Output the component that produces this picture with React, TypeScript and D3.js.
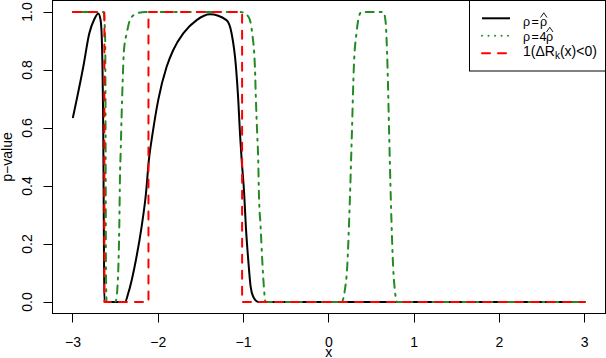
import React from "react";
import * as d3 from "d3";

// ---- data ----
const blackX = [-3.0, -2.957, -2.879, -2.809, -2.75, -2.703, -2.678, -2.664, -2.645, -2.637, -2.632, -2.39, -2.352, -2.262, -2.195, -2.144, -2.11, -2.066, -2.0, -1.902, -1.824, -1.707, -1.55, -1.394, -1.2, -1.14, -1.089, -1.062, -1.042, -1.022, -0.993, -0.973, -0.945, -0.917, -0.886, -0.828, 3.0];
const blackY = [0.637, 0.697, 0.811, 0.926, 0.975, 0.995, 0.975, 0.926, 0.58, 0.2, 0.0, 0.0, 0.03, 0.145, 0.26, 0.375, 0.49, 0.582, 0.697, 0.811, 0.869, 0.926, 0.972, 0.992, 0.972, 0.926, 0.811, 0.697, 0.582, 0.49, 0.375, 0.26, 0.145, 0.053, 0.018, 0.0, 0.0];

const greenX = [-3.0, -2.64, -2.622, -2.617, -2.613, -2.605, -2.51, -2.496, -2.469, -2.457, -2.449, -2.44, -2.43, -2.418, -2.402, -2.37, -2.332, -2.254, -2.15, -1.05, -1.0, -0.96, -0.925, -0.898, -0.867, -0.855, -0.84, -0.828, -0.82, -0.8, -0.781, -0.762, -0.742, 0.14, 0.149, 0.187, 0.215, 0.246, 0.27, 0.293, 0.325, 0.343, 0.38, 0.64, 0.664, 0.688, 0.707, 0.727, 0.754, 0.774, 0.8, 0.81, 3.0];
const greenY = [1.0, 1.0, 0.9, 0.5, 0.1, 0.0, 0.0, 0.005, 0.11, 0.26, 0.43, 0.524, 0.639, 0.754, 0.869, 0.926, 0.972, 0.995, 1.0, 1.0, 0.998, 0.99, 0.972, 0.926, 0.811, 0.697, 0.58, 0.49, 0.375, 0.26, 0.145, 0.053, 0.0, 0.0, 0.0, 0.04, 0.12, 0.35, 0.58, 0.81, 0.93, 0.97, 1.0, 1.0, 0.97, 0.81, 0.58, 0.35, 0.12, 0.04, 0.0, 0.0, 0.0];

const redX = [-3.0, -2.632, -2.632, -2.115, -2.115, -1.017, -1.017, 3.0];
const redY = [1, 1, 0, 0, 1, 1, 0, 0];

const xTicks = [-3, -2, -1, 0, 1, 2, 3];
const xTickLabels = ["\u22123", "\u22122", "\u22121", "0", "1", "2", "3"];
const yTicks = [0, 0.2, 0.4, 0.6, 0.8, 1.0];
const yTickLabels = ["0.0", "0.2", "0.4", "0.6", "0.8", "1.0"];

const FONT = "'Liberation Sans', Arial, Helvetica, sans-serif";

export default function App() {
  const W = 606, H = 358;
  const x = d3.scaleLinear().domain([-3.24, 3.24]).range([52.5, 605.2]);
  const y = d3.scaleLinear().domain([-0.04, 1.04]).range([313.6, 0.4]);

  const smooth = d3.line<[number, number]>().x(d => x(d[0])).y(d => y(d[1])).curve(d3.curveMonotoneX);
  const step = d3.line<[number, number]>().x(d => x(d[0])).y(d => y(d[1]));

  const black = blackX.map((v, i) => [v, blackY[i]] as [number, number]);
  const green = greenX.map((v, i) => [v, greenY[i]] as [number, number]);
  const red = redX.map((v, i) => [v, redY[i]] as [number, number]);

  const snap = (v: number) => Math.round(v - 0.5) + 0.5;
  const left = 52.5, right = 605.5, top = 0.5, bottom = 313.5;

  const legLineX1 = 482, legLineX2 = 510;
  const rows = [18.3, 35.7, 53.3];

  return (
    <svg width={W} height={H} style={{ position: "absolute", left: 0, top: 0, background: "#fff" }} fontFamily={FONT}>
      <rect x={0} y={0} width={W} height={H} fill="#fff" />
      {/* curves */}
      <path d={smooth(black) || ""} fill="none" stroke="#000" strokeWidth={2} strokeLinejoin="round" strokeLinecap="round" />
      <path d={smooth(green) || ""} fill="none" stroke="#228B22" strokeWidth={2} strokeDasharray="2,6,8,6" strokeLinejoin="round" strokeLinecap="round" />
      <path d={step(red) || ""} fill="none" stroke="#FF0000" strokeWidth={2} strokeDasharray="8,8" strokeLinejoin="round" strokeLinecap="round" />

      {/* box */}
      <rect x={left} y={top} width={right - left} height={bottom - top} fill="none" stroke="#000" strokeWidth={1} />

      {/* x axis */}
      <line x1={snap(x(-3))} x2={snap(x(3))} y1={bottom} y2={bottom} stroke="#000" />
      {xTicks.map((t, i) => (
        <g key={"xt" + i}>
          <line x1={snap(x(t))} x2={snap(x(t))} y1={bottom} y2={bottom + 9} stroke="#000" />
          <text x={x(t)} y={346.5} fontSize={14} textAnchor="middle" fill="#000">{xTickLabels[i]}</text>
        </g>
      ))}
      {/* y axis */}
      {yTicks.map((t, i) => (
        <g key={"yt" + i}>
          <line x1={left} x2={left - 9} y1={snap(y(t))} y2={snap(y(t))} stroke="#000" />
          <text transform={`translate(32,${y(t)}) rotate(-90)`} fontSize={14} textAnchor="middle" fill="#000">{yTickLabels[i]}</text>
        </g>
      ))}
      <text transform={`translate(12,${(0.4 + 313.6) / 2}) rotate(-90)`} fontSize={14} textAnchor="middle" fill="#000">p{"\u2212"}value</text>
      <text x={x(0)} y={356.5} fontSize={14} textAnchor="middle" fill="#000">x</text>

      {/* legend */}
      <rect x={469.5} y={top} width={right - 469.5} height={71 - top} fill="#fff" stroke="#000" strokeWidth={1} />
      <line x1={legLineX1} x2={legLineX2} y1={rows[0]} y2={rows[0]} stroke="#000" strokeWidth={2} />
      <line x1={legLineX1} x2={legLineX2} y1={rows[1]} y2={rows[1]} stroke="#228B22" strokeWidth={2} strokeDasharray="0.01,6.5" strokeLinecap="round" />
      <line x1={legLineX1} x2={legLineX2} y1={rows[2]} y2={rows[2]} stroke="#FF0000" strokeWidth={2} strokeDasharray="8,8" strokeLinecap="round" />

      <g fill="#000" fontSize={12.5}>
        <text x={523} y={26}>ρ</text>
        <text x={531.5} y={26}>=</text>
        <text x={540} y={26}>ρ</text>
        <path d="M540.5,17.5 L543.8,12.8 L547,17.5" fill="none" stroke="#000" strokeWidth={0.9} />
        <text x={523} y={41}>ρ</text>
        <text x={531.5} y={41}>=</text>
        <text x={539.5} y={41}>4</text>
        <text x={546} y={41}>ρ</text>
        <path d="M546.5,32 L549.8,27.3 L553,32" fill="none" stroke="#000" strokeWidth={0.9} />
      </g>
      <text x={523} y={55.5} fontSize={14} fill="#000">
        1(ΔR<tspan fontSize={10} dy={3}>k</tspan><tspan dy={-3}>(x)&lt;0)</tspan>
      </text>
    </svg>
  );
}
